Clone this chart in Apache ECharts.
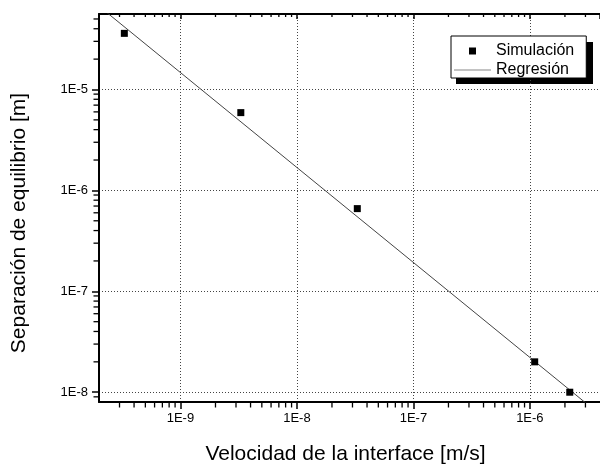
<!DOCTYPE html>
<html><head><meta charset="utf-8">
<script src="https://cdn.jsdelivr.net/npm/echarts@6/dist/echarts.min.js"></script>
<style>html,body{margin:0;padding:0;background:#fff}#c{width:600px;height:470px}</style>
</head><body><div id="c"></div>
<script>
// Data
const simX = [3.3e-10, 3.3e-9, 3.3e-8, 1.1e-6, 2.2e-6];
const simY = [3.6e-5, 5.9e-6, 6.6e-7, 2.0e-8, 1.0e-8];
const regX = [2.0e-10, 4.0e-6];
const regY = [6.7e-5, 6.0e-9];
const xTicks = [1e-9, 1e-8, 1e-7, 1e-6];
const xTickLabels = ['1E-9', '1E-8', '1E-7', '1E-6'];
const yTicks = [1e-8, 1e-7, 1e-6, 1e-5];
const yTickLabels = ['1E-8', '1E-7', '1E-6', '1E-5'];
const seriesNames = ['Simulación', 'Regresión'];
const xTitle = 'Velocidad de la interface [m/s]';
const yTitle = 'Separación de equilibrio [m]';
const X_MIN = 2e-10, X_MAX = 4e-6, Y_MIN = 8e-9, Y_MAX = 5.6e-5;

const FONT = 'Arial, "Liberation Sans", sans-serif';
const black = '#000';
function makeFmt(ticks, labels) {
  return function (v) {
    for (let i = 0; i < ticks.length; i++) {
      if (Math.abs(Math.log10(v) - Math.log10(ticks[i])) < 1e-6) return labels[i];
    }
    return '';
  };
}
// minor tick positions of a log axis (2..9 x 10^n), axis decoration only
function minorValues(lo, hi) {
  const out = [];
  for (let e = Math.floor(Math.log10(lo)); e <= Math.ceil(Math.log10(hi)); e++) {
    for (let k = 2; k <= 9; k++) {
      const v = k * Math.pow(10, e);
      if (v > lo * 1.0001 && v < hi * 0.9999) out.push(v);
    }
  }
  return out;
}
const xMinor = minorValues(X_MIN, X_MAX);
const yMinor = minorValues(Y_MIN, Y_MAX);

const axisBase = {
  type: 'log', logBase: 10,
  axisLine: { show: true, onZero: false, lineStyle: { color: black, width: 2 } },
  axisTick: { show: true, length: 7, lineStyle: { color: black, width: 1.5 } },
  minorTick: { show: false },
  splitLine: { show: true, lineStyle: { color: '#444', width: 1, type: [1, 2] } },
  minorSplitLine: { show: false }
};
function tickSeries(name, data, size, offset) {
  return {
    name: name, type: 'scatter', xAxisIndex: 0, yAxisIndex: 0,
    data: data, symbol: 'rect', symbolSize: size, symbolOffset: offset,
    itemStyle: { color: black, opacity: 1 }, clip: false, silent: true, z: 5,
    emphasis: { disabled: true }, tooltip: { show: false }
  };
}

const chart = echarts.init(document.getElementById('c'), null, { renderer: 'canvas' });
chart.setOption({
  animation: false,
  backgroundColor: '#fff',
  textStyle: { fontFamily: FONT },
  grid: { left: 99, top: 14, right: -5, bottom: 64, containLabel: false },
  graphic: [
    { type: 'rect', left: 456, top: 42, z: 0, shape: { width: 137, height: 42 }, style: { fill: black } }
  ],
  legend: {
    data: [
      { name: seriesNames[0], icon: 'path://M0,0L1,0L1,1L0,1Z', itemStyle: { color: black, opacity: 1 } },
      { name: seriesNames[1], icon: 'path://M0,0L37,0L37,1L0,1Z', itemStyle: { color: '#888' } }
    ],
    orient: 'vertical', left: 451, top: 36, z: 10,
    padding: [7, 12, 0, 3], itemGap: 3, itemWidth: 37, itemHeight: 7,
    symbolKeepAspect: true,
    backgroundColor: '#fff', borderColor: black, borderWidth: 1, borderRadius: 0,
    textStyle: { fontSize: 16, color: black, fontFamily: FONT }
  },
  xAxis: [
    Object.assign({}, axisBase, {
      position: 'bottom', min: X_MIN, max: X_MAX,
      axisLabel: { formatter: makeFmt(xTicks, xTickLabels), showMinLabel: false, showMaxLabel: false,
        fontSize: 13, color: black, margin: 10, fontFamily: FONT },
      name: xTitle, nameLocation: 'middle', nameGap: 42,
      nameTextStyle: { fontSize: 21, color: black, fontFamily: FONT, padding: [0, 8, 0, 0] }
    }),
    Object.assign({}, axisBase, {
      position: 'top', min: X_MIN, max: X_MAX,
      axisTick: { show: true, inside: true, length: 5, lineStyle: { color: black, width: 1.5 } },
      axisLabel: { show: false }, splitLine: { show: false }
    })
  ],
  yAxis: [
    Object.assign({}, axisBase, {
      position: 'left', min: Y_MIN, max: Y_MAX,
      axisLabel: { formatter: makeFmt(yTicks, yTickLabels), showMinLabel: false, showMaxLabel: false,
        fontSize: 13, color: black, margin: 11, fontFamily: FONT },
      name: yTitle, nameLocation: 'middle', nameGap: 69, nameRotate: 90,
      nameTextStyle: { fontSize: 21, color: black, fontFamily: FONT, padding: [0, 30, 0, 0] }
    })
  ],
  series: [
    {
      name: seriesNames[0], type: 'scatter', xAxisIndex: 0, yAxisIndex: 0,
      symbol: 'rect', symbolSize: 7, itemStyle: { color: black, opacity: 1 }, z: 3,
      data: simX.map((x, i) => [x, simY[i]])
    },
    {
      name: seriesNames[1], type: 'line', xAxisIndex: 0, yAxisIndex: 0,
      symbol: 'none', showSymbol: false, clip: true, z: 2,
      color: '#444', lineStyle: { color: '#444', width: 1 },
      data: regX.map((x, i) => [x, regY[i]])
    },
    tickSeries('_xMinorBottom', xMinor.map(v => [v, Y_MIN]), [1.3, 5], [0, 3]),
    tickSeries('_xMinorTop', xMinor.map(v => [v, Y_MAX]), [1.3, 3], [0, 1.5]),
    tickSeries('_yMinorLeft', yMinor.map(v => [X_MIN, v]), [5, 1.3], [-3, 0])
  ]
});
</script>
</body></html>
